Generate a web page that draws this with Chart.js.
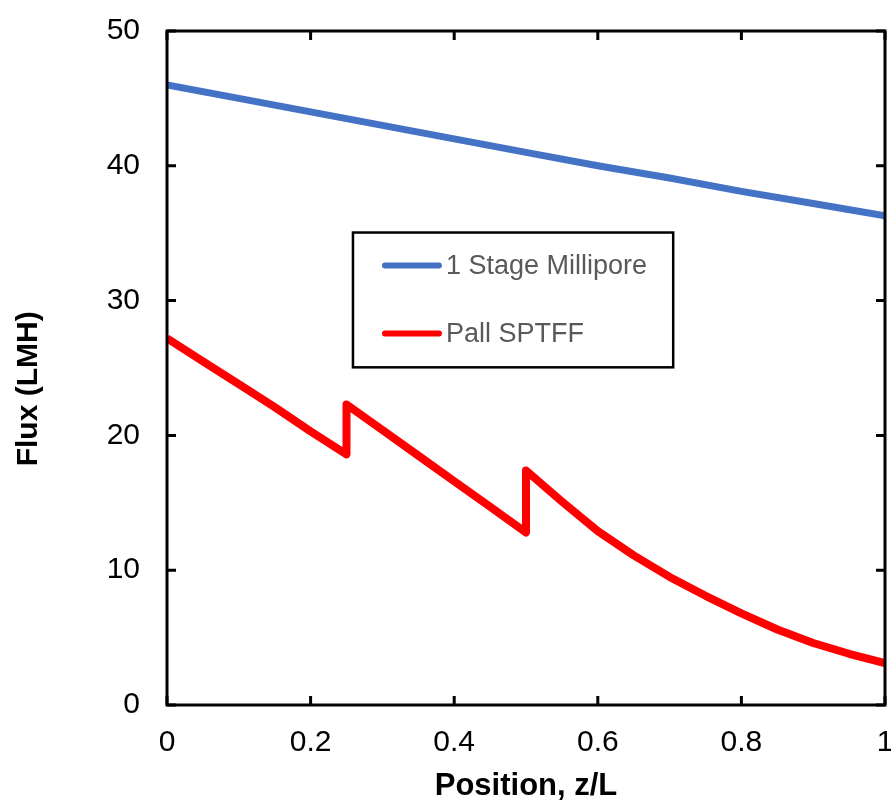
<!DOCTYPE html>
<html>
<head>
<meta charset="utf-8">
<script src="https://cdn.jsdelivr.net/npm/chart.js@4.4.1/dist/chart.umd.min.js"></script>
<style>
  body { margin: 0; background: #fff; }
</style>
</head>
<body>
<canvas id="chart" width="891" height="801"></canvas>
<script>
// data
const millX = [0, 0.1, 0.2, 0.3, 0.4, 0.5, 0.6, 0.7, 0.8, 0.9, 1.0];
const millY = [46.0, 45.0, 44.0, 43.0, 42.0, 41.0, 40.0, 39.1, 38.1, 37.2, 36.3];

const pallX = [0, 0.05, 0.1, 0.15, 0.2, 0.25, 0.25, 0.3, 0.35, 0.4, 0.45, 0.5,
               0.5, 0.55, 0.6, 0.65, 0.7, 0.75, 0.8, 0.85, 0.9, 0.95, 1.0];
const pallY = [27.2, 25.5, 23.8, 22.1, 20.3, 18.6, 22.3, 20.4, 18.5, 16.6, 14.7, 12.8,
               17.4, 15.1, 12.9, 11.1, 9.5, 8.1, 6.8, 5.6, 4.6, 3.8, 3.1];

const xTicks = [0, 0.2, 0.4, 0.6, 0.8, 1];
const yTicks = [0, 10, 20, 30, 40, 50];

const FONT = '"Liberation Sans", Arial, sans-serif';

const toPoints = (xs, ys) => xs.map((x, i) => ({ x: x, y: ys[i] }));

// box + inward ticks on all four sides
const framePlugin = {
  id: 'frame',
  afterDraw(chart) {
    const ctx = chart.ctx;
    const a = chart.chartArea;
    const xs = chart.scales.x, ys = chart.scales.y;
    const len = 9;
    ctx.save();
    ctx.strokeStyle = '#000';
    ctx.lineWidth = 3;
    ctx.lineCap = 'butt';
    ctx.beginPath();
    xTicks.forEach(v => {
      const px = xs.getPixelForValue(v);
      ctx.moveTo(px, a.bottom); ctx.lineTo(px, a.bottom - len);
      ctx.moveTo(px, a.top); ctx.lineTo(px, a.top + len);
    });
    yTicks.forEach(v => {
      const py = ys.getPixelForValue(v);
      ctx.moveTo(a.left, py); ctx.lineTo(a.left + len, py);
      ctx.moveTo(a.right, py); ctx.lineTo(a.right - len, py);
    });
    ctx.stroke();
    ctx.strokeRect(a.left, a.top, a.right - a.left, a.bottom - a.top);
    ctx.restore();
  }
};

// legend box inside the plot
const boxLegend = {
  id: 'boxLegend',
  afterDatasetsDraw(chart) {
    const ctx = chart.ctx;
    const a = chart.chartArea;
    const w = a.right - a.left, h = a.bottom - a.top;
    const bx = a.left + 0.259 * w, by = a.top + 0.299 * h;
    const bw = 0.446 * w, bh = 0.2 * h;
    ctx.save();
    ctx.fillStyle = '#fff';
    ctx.fillRect(bx, by, bw, bh);
    ctx.strokeStyle = '#000';
    ctx.lineWidth = 2.5;
    ctx.strokeRect(bx, by, bw, bh);
    ctx.font = '27px ' + FONT;
    ctx.textBaseline = 'middle';
    ctx.textAlign = 'left';
    chart.data.datasets.forEach((ds, i) => {
      const cy = by + 33 + i * 68;
      ctx.strokeStyle = ds.borderColor;
      ctx.lineWidth = 6;
      ctx.lineCap = 'round';
      ctx.beginPath();
      ctx.moveTo(bx + 32, cy);
      ctx.lineTo(bx + 86, cy);
      ctx.stroke();
      ctx.fillStyle = '#595959';
      ctx.fillText(ds.label, bx + 93, cy + 1);
    });
    ctx.restore();
  }
};

new Chart(document.getElementById('chart'), {
  type: 'line',
  data: {
    datasets: [
      {
        label: '1 Stage Millipore',
        data: toPoints(millX, millY),
        borderColor: '#4472C4',
        borderWidth: 7,
        pointRadius: 0,
        tension: 0,
        borderJoinStyle: 'round'
      },
      {
        label: 'Pall SPTFF',
        data: toPoints(pallX, pallY),
        borderColor: '#FF0000',
        borderWidth: 8,
        pointRadius: 0,
        tension: 0,
        borderJoinStyle: 'round'
      }
    ]
  },
  options: {
    responsive: false,
    animation: false,
    layout: { padding: { top: 31, right: 6, left: 0, bottom: 0 } },
    plugins: {
      legend: { display: false },
      tooltip: { enabled: false }
    },
    scales: {
      x: {
        type: 'linear',
        min: 0, max: 1,
        afterBuildTicks: s => { s.ticks = xTicks.map(v => ({ value: v })); },
        afterFit: s => { s.height = 96; s.paddingLeft = 0; s.paddingRight = 0; },
        grid: { display: false, drawTicks: false },
        border: { display: false },
        ticks: {
          color: '#000',
          font: { family: FONT, size: 30 },
          padding: 20,
          maxRotation: 0,
          callback: v => String(v)
        },
        title: {
          display: true,
          text: 'Position, z/L',
          color: '#000',
          font: { family: FONT, size: 31, weight: 'bold' },
          padding: { top: 0, bottom: -4 }
        }
      },
      y: {
        type: 'linear',
        min: 0, max: 50,
        afterBuildTicks: s => { s.ticks = yTicks.map(v => ({ value: v })); },
        afterFit: s => { s.width = 167; s.paddingTop = 0; s.paddingBottom = 0; },
        grid: { display: false, drawTicks: false },
        border: { display: false },
        ticks: {
          color: '#000',
          font: { family: FONT, size: 30 },
          padding: 27,
          callback: v => String(v)
        },
        title: {
          display: true,
          text: 'Flux (LMH)     ',
          color: '#000',
          font: { family: FONT, size: 30, weight: 'bold' },
          padding: { top: 11, bottom: 0 }
        }
      }
    }
  },
  plugins: [framePlugin, boxLegend]
});
</script>
</body>
</html>
